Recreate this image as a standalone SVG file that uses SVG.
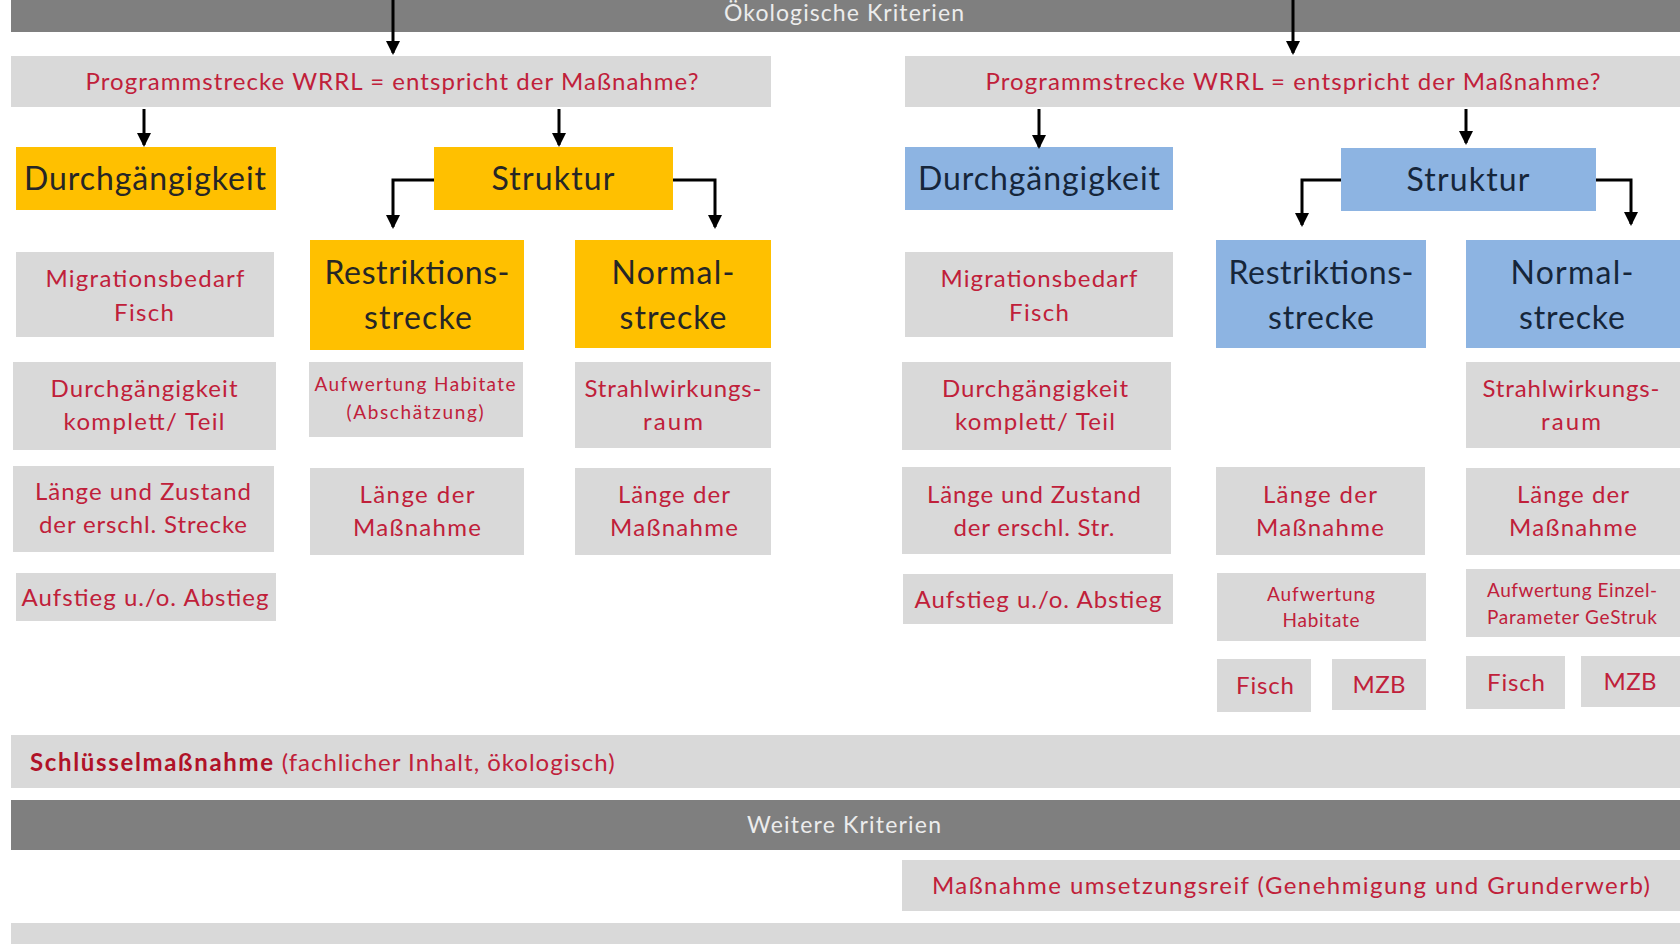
<svg xmlns="http://www.w3.org/2000/svg" width="1680" height="944" viewBox="0 0 1680 944">
<defs>
<marker id="ah" markerUnits="userSpaceOnUse" markerWidth="14" markerHeight="14" refX="12" refY="7" orient="auto">
<path d="M0,0 L14,7 L0,14 z" fill="#000"/>
</marker>
<style>
text{font-family:Lato,"Open Sans","Liberation Sans",sans-serif;text-anchor:middle}
.bar{fill:#7f7f7f}
.g{fill:#d9d9d9}
.y{fill:#ffc000}
.b{fill:#8db4e2}
.bt{fill:#ececec;font-size:23px}
.pt{fill:#c0203a;font-size:24px}
.gt{fill:#c0203a;font-size:24px}
.st{fill:#c0203a;font-size:19px}
.xt{fill:#c0203a;font-size:19px}
.yt{fill:#262626;font-size:32px}
.ht{fill:#16263a;font-size:32px}
.c{fill:none;stroke:#000;stroke-width:3;marker-end:url(#ah)}
</style>
</defs>
<rect width="1680" height="944" fill="#fff"/>

<g id="top-bar"><rect class="bar" x="11" y="0" width="1669" height="32"/><text class="bt" x="844" y="21" textLength="240">Ökologische Kriterien</text></g>

<g id="prog-left"><rect class="g" x="11" y="56" width="760" height="51"/><text class="pt" x="392" y="90" textLength="613" lengthAdjust="spacing">Programmstrecke  WRRL = entspricht der Maßnahme?</text></g>
<g id="prog-right"><rect class="g" x="905" y="56" width="775" height="51"/><text class="pt" x="1293" y="90" textLength="615" lengthAdjust="spacing">Programmstrecke  WRRL = entspricht der Maßnahme?</text></g>

<g id="durch-y"><rect class="y" x="16" y="147" width="260" height="63"/><text class="yt" x="145" y="190" textLength="242">Durchgängigkeit</text></g>
<g id="struktur-y"><rect class="y" x="434" y="147" width="239" height="63"/><text class="yt" x="553" y="190" textLength="123">Struktur</text></g>
<g id="restr-y"><rect class="y" x="310" y="240" width="214" height="110"/><text class="yt" x="417" y="284" textLength="185">Restriktions-</text><text class="yt" x="418" y="329" textLength="108">strecke</text></g>
<g id="normal-y"><rect class="y" x="575" y="240" width="196" height="108"/><text class="yt" x="673" y="284" textLength="123">Normal-</text><text class="yt" x="673" y="329" textLength="107">strecke</text></g>

<g id="l-migr"><rect class="g" x="16" y="252" width="258" height="85"/><text class="gt" x="145" y="287" textLength="199">Migrationsbedarf</text><text class="gt" x="144" y="321" textLength="60">Fisch</text></g>
<g id="l-durchk"><rect class="g" x="13" y="362" width="263" height="88"/><text class="gt" x="144" y="397" textLength="187">Durchgängigkeit</text><text class="gt" x="144" y="430" textLength="161">komplett/ Teil</text></g>
<g id="l-laenge"><rect class="g" x="13" y="466" width="261" height="86"/><text class="gt" x="143" y="500" textLength="216">Länge und Zustand</text><text class="gt" x="143" y="533" textLength="208">der erschl. Strecke</text></g>
<g id="l-aufstieg"><rect class="g" x="16" y="573" width="260" height="48"/><text class="gt" x="145" y="606" textLength="247">Aufstieg u./o. Abstieg</text></g>

<g id="l-aufw"><rect class="g" x="309" y="362" width="214" height="75"/><text class="st" x="415" y="391" textLength="201" lengthAdjust="spacing">Aufwertung  Habitate</text><text class="st" x="415" y="419" textLength="137">(Abschätzung)</text></g>
<g id="l-rlaenge"><rect class="g" x="310" y="468" width="214" height="87"/><text class="gt" x="417" y="503" textLength="115">Länge der</text><text class="gt" x="417" y="536" textLength="128">Maßnahme</text></g>
<g id="l-strahl"><rect class="g" x="575" y="362" width="196" height="86"/><text class="gt" x="673" y="397" textLength="177">Strahlwirkungs-</text><text class="gt" x="673" y="430" textLength="60">raum</text></g>
<g id="l-nlaenge"><rect class="g" x="575" y="468" width="196" height="87"/><text class="gt" x="674" y="503" textLength="112">Länge der</text><text class="gt" x="674" y="536" textLength="128">Maßnahme</text></g>

<g id="durch-b"><rect class="b" x="905" y="147" width="268" height="63"/><text class="ht" x="1039" y="190" textLength="242">Durchgängigkeit</text></g>
<g id="struktur-b"><rect class="b" x="1341" y="148" width="255" height="63"/><text class="ht" x="1468" y="191" textLength="123">Struktur</text></g>
<g id="restr-b"><rect class="b" x="1216" y="240" width="210" height="108"/><text class="ht" x="1321" y="284" textLength="185">Restriktions-</text><text class="ht" x="1321" y="329" textLength="106">strecke</text></g>
<g id="normal-b"><rect class="b" x="1466" y="240" width="214" height="108"/><text class="ht" x="1572" y="284" textLength="123">Normal-</text><text class="ht" x="1572" y="329" textLength="106">strecke</text></g>

<g id="r-migr"><rect class="g" x="905" y="252" width="268" height="85"/><text class="gt" x="1039" y="287" textLength="197">Migrationsbedarf</text><text class="gt" x="1039" y="321" textLength="60">Fisch</text></g>
<g id="r-durchk"><rect class="g" x="902" y="362" width="269" height="88"/><text class="gt" x="1035" y="397" textLength="186">Durchgängigkeit</text><text class="gt" x="1035" y="430" textLength="160">komplett/ Teil</text></g>
<g id="r-laenge"><rect class="g" x="902" y="467" width="269" height="87"/><text class="gt" x="1034" y="503" textLength="214">Länge und Zustand</text><text class="gt" x="1034" y="536" textLength="161">der erschl. Str.</text></g>
<g id="r-aufstieg"><rect class="g" x="903" y="574" width="270" height="50"/><text class="gt" x="1038" y="608" textLength="247">Aufstieg u./o. Abstieg</text></g>

<g id="r-rlaenge"><rect class="g" x="1216" y="467" width="209" height="88"/><text class="gt" x="1320" y="503" textLength="114">Länge der</text><text class="gt" x="1320" y="536" textLength="128">Maßnahme</text></g>
<g id="r-aufw"><rect class="g" x="1217" y="573" width="209" height="68"/><text class="xt" x="1321" y="601" textLength="108">Aufwertung</text><text class="xt" x="1321" y="627" textLength="77">Habitate</text></g>
<g id="r-rfisch"><rect class="g" x="1217" y="659" width="94" height="53"/><text class="gt" x="1265" y="694" textLength="58">Fisch</text></g>
<g id="r-rmzb"><rect class="g" x="1332" y="659" width="94" height="51"/><text class="gt" x="1379" y="693" textLength="53">MZB</text></g>

<g id="r-strahl"><rect class="g" x="1466" y="362" width="214" height="86"/><text class="gt" x="1571" y="397" textLength="177">Strahlwirkungs-</text><text class="gt" x="1571" y="430" textLength="60">raum</text></g>
<g id="r-nlaenge"><rect class="g" x="1466" y="468" width="214" height="87"/><text class="gt" x="1573" y="503" textLength="112">Länge der</text><text class="gt" x="1573" y="536" textLength="128">Maßnahme</text></g>
<g id="r-einzel"><rect class="g" x="1466" y="569" width="214" height="68"/><text class="xt" x="1572" y="597" textLength="170">Aufwertung Einzel-</text><text class="xt" x="1572" y="624" textLength="170">Parameter GeStruk</text></g>
<g id="r-nfisch"><rect class="g" x="1466" y="656" width="99" height="53"/><text class="gt" x="1516" y="691" textLength="58">Fisch</text></g>
<g id="r-nmzb"><rect class="g" x="1581" y="656" width="99" height="51"/><text class="gt" x="1630" y="690" textLength="53">MZB</text></g>

<g id="schluessel"><rect class="g" x="11" y="735" width="1669" height="53"/><text x="30" y="771" style="text-anchor:start;font-size:24px"><tspan fill="#b01228" font-weight="bold" textLength="243">Schlüsselmaßnahme</tspan><tspan fill="#c0203a" dx="7" textLength="333">(fachlicher Inhalt, ökologisch)</tspan></text></g>

<g id="weitere-bar"><rect class="bar" x="11" y="800" width="1669" height="50"/><text class="bt" x="844" y="833" textLength="194">Weitere Kriterien</text></g>

<g id="umsetzung"><rect class="g" x="902" y="860" width="778" height="51"/><text class="gt" x="1291" y="894" textLength="718" lengthAdjust="spacing">Maßnahme  umsetzungsreif  (Genehmigung  und Grunderwerb)</text></g>

<g id="bottom-strip"><rect class="g" x="11" y="923" width="1669" height="21"/></g>

<g id="connectors">
<path class="c" d="M393,0 V53"/>
<path class="c" d="M1293,0 V53"/>
<path class="c" d="M144,109 V145"/>
<path class="c" d="M559,109 V145"/>
<path class="c" d="M1039,109 V147"/>
<path class="c" d="M1466,109 V143"/>
<path class="c" d="M434,180 H393 V227"/>
<path class="c" d="M673,180 H715 V227"/>
<path class="c" d="M1341,180 H1302 V225"/>
<path class="c" d="M1596,180 H1631 V224"/>
</g>
</svg>
